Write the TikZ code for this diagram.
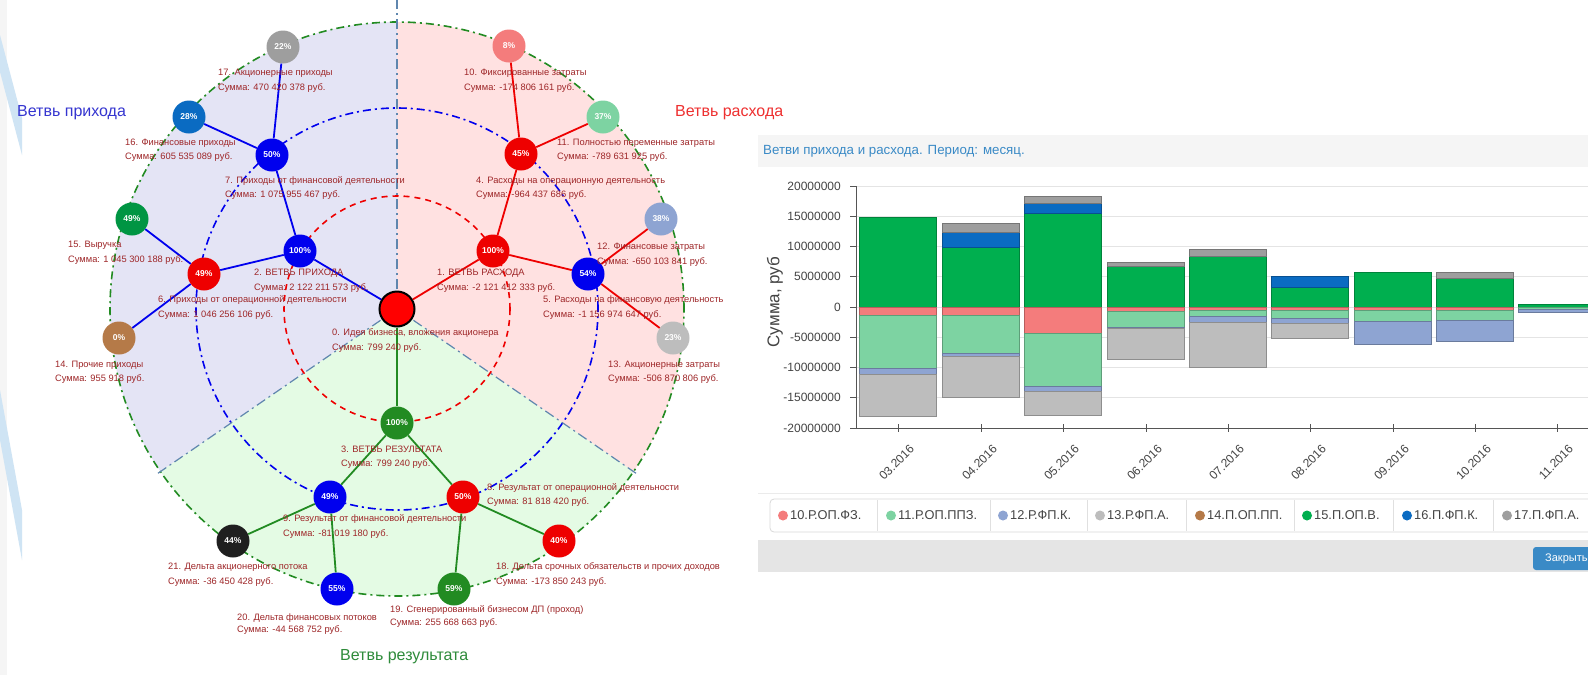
\documentclass[tikz,border=0pt]{standalone}
\usepackage{fontspec}
\setmainfont{Liberation Sans}
\definecolor{lav}{HTML}{E4E4F5}
\definecolor{pinkbg}{HTML}{FFE1E1}
\definecolor{grnbg}{HTML}{E4FBE4}
\definecolor{lblred}{HTML}{9E2628}
\definecolor{incc}{HTML}{0000EE}
\definecolor{expc}{HTML}{EE0000}
\definecolor{resc}{HTML}{228B22}
\definecolor{sectc}{HTML}{5F86AE}
\definecolor{c10}{HTML}{F47C7C}
\definecolor{c11}{HTML}{7DD3A2}
\definecolor{c12}{HTML}{8EA4D2}
\definecolor{c13}{HTML}{BDBDBD}
\definecolor{c14}{HTML}{B57A48}
\definecolor{c15}{HTML}{00AF4F}
\definecolor{c16}{HTML}{0A6BC2}
\definecolor{c17}{HTML}{9E9E9E}
\definecolor{titleblue}{HTML}{3A8AC6}
\definecolor{axisgray}{HTML}{555555}
\definecolor{gridgray}{HTML}{E4E4E4}
\definecolor{txtgray}{HTML}{444444}
\definecolor{edgeblue}{HTML}{CFE4F4}
\definecolor{brinc}{HTML}{3535D0}
\definecolor{brexp}{HTML}{EE3030}
\definecolor{brres}{HTML}{2E8B3A}
\newcommand{\bseg}[4]{\fill[#4, draw=#4!75!black, line width=0.6pt] ({#1-38.5},{-307+6.05*#2}) rectangle ({#1+38.5},{-307+6.05*#3});}
\begin{document}
\begin{tikzpicture}[x=1pt,y=1pt,
  pct/.style={circle, minimum size=33pt, inner sep=0pt, text=white, font=\bfseries\fontsize{8.5}{8.5}\selectfont},
  lbl/.style={anchor=base west, align=left, text=lblred, font=\fontsize{9.3}{14.5}\selectfont, inner sep=0pt},
  incedge/.style={draw=incc, line width=1.8pt},
  expedge/.style={draw=expc, line width=1.8pt},
  resedge/.style={draw=resc, line width=1.8pt},
  redring/.style={draw=expc, line width=1.6pt, dash pattern=on 6pt off 5pt},
  bluering/.style={draw=incc, line width=1.6pt, dash pattern=on 8pt off 4pt on 2pt off 4pt},
  greenring/.style={draw=resc, line width=1.6pt, dash pattern=on 8pt off 4pt on 2pt off 4pt},
  sectline/.style={draw=sectc, line width=1.2pt, dash pattern=on 10pt off 4pt on 2pt off 4pt},
  branch/.style={anchor=west, inner sep=0pt, font=\fontsize{16}{16}\selectfont},
  ytl/.style={anchor=east, inner sep=0pt, text=txtgray, font=\fontsize{12}{12}\selectfont},
  xtl/.style={anchor=east, rotate=45, inner sep=0pt, text=txtgray, font=\fontsize{12}{12}\selectfont},
  legtxt/.style={anchor=west, inner sep=0pt, text=txtgray, font=\fontsize{12.8}{12.8}\selectfont},
  legdot/.style={circle, minimum size=10pt, inner sep=0pt}
]
\clip (0,0) rectangle (1588,-675);
\fill[white] (0,0) rectangle (1588,-675);
% left edge decoration
\fill[gray!8] (0,0) rectangle (7,-675);
\fill[edgeblue] (0,-35) -- (0,-72) -- (22,-155) -- (22,-118) -- cycle;
\fill[edgeblue] (0,-390) -- (0,-440) -- (22,-560) -- (22,-510) -- cycle;

% ===== radial diagram =====
\coordinate (C) at (397,-309);
\fill[lav] (C) -- ++(90:287) arc[start angle=90, end angle=214.5, radius=287] -- cycle;
\fill[pinkbg] (C) -- ++(-34.5:287) arc[start angle=-34.5, end angle=90, radius=287] -- cycle;
\fill[grnbg] (C) -- ++(214.5:287) arc[start angle=214.5, end angle=325.5, radius=287] -- cycle;
\draw[redring] (C) circle[radius=113];
\draw[bluering] (C) circle[radius=201];
\draw[greenring] (C) circle[radius=287];
\coordinate (top) at (397,0);
\path (C) ++(214.5:292) coordinate (ll) (C) ++(-34.5:292) coordinate (lr);
\draw[sectline] (C) -- (top);
\draw[sectline] (C) -- (ll);
\draw[sectline] (C) -- (lr);

% nodes
\node[circle, minimum size=35pt, inner sep=0pt, fill=red, draw=black, line width=2pt] (n0) at (397,-309) {};
\node[pct, fill=expc] (n1) at (493,-251) {100\%};
\node[pct, fill=incc] (n2) at (300,-251) {100\%};
\node[pct, fill=resc] (n3) at (397,-423) {100\%};
\node[pct, fill=expc] (n4) at (521,-154) {45\%};
\node[pct, fill=incc] (n5) at (588,-274) {54\%};
\node[pct, fill=expc] (n6) at (204,-274) {49\%};
\node[pct, fill=incc] (n7) at (272,-155) {50\%};
\node[pct, fill=expc] (n8) at (463,-497) {50\%};
\node[pct, fill=incc] (n9) at (330,-497) {49\%};
\node[pct, fill=c10] (n10) at (509,-46) {8\%};
\node[pct, fill=c11] (n11) at (603,-117) {37\%};
\node[pct, fill=c12] (n12) at (661,-219) {38\%};
\node[pct, fill=c13] (n13) at (673,-338) {23\%};
\node[pct, fill=c14] (n14) at (119,-338) {0\%};
\node[pct, fill=c15!85!black] (n15) at (132,-219) {49\%};
\node[pct, fill=c16] (n16) at (189,-117) {28\%};
\node[pct, fill=c17] (n17) at (283,-47) {22\%};
\node[pct, fill=expc] (n18) at (559,-541) {40\%};
\node[pct, fill=resc] (n19) at (454,-589) {59\%};
\node[pct, fill=incc] (n20) at (337,-589) {55\%};
\node[pct, fill=black!88] (n21) at (233,-541) {44\%};

% edges
\draw[incedge] (n0) -- (n2);
\draw[expedge] (n0) -- (n1);
\draw[resedge] (n0) -- (n3);
\draw[incedge] (n2) -- (n7);
\draw[incedge] (n2) -- (n6);
\draw[incedge] (n7) -- (n17);
\draw[incedge] (n7) -- (n16);
\draw[incedge] (n6) -- (n15);
\draw[incedge] (n6) -- (n14);
\draw[expedge] (n1) -- (n4);
\draw[expedge] (n1) -- (n5);
\draw[expedge] (n4) -- (n10);
\draw[expedge] (n4) -- (n11);
\draw[expedge] (n5) -- (n12);
\draw[expedge] (n5) -- (n13);
\draw[resedge] (n3) -- (n9);
\draw[resedge] (n3) -- (n8);
\draw[resedge] (n9) -- (n21);
\draw[resedge] (n9) -- (n20);
\draw[resedge] (n8) -- (n18);
\draw[resedge] (n8) -- (n19);

% labels (base = baseline of second line)
\node[lbl] (l17) at (218,-90) {17. Акционерные приходы\\Сумма: 470 420 378 руб.};
\node[lbl] (l16) at (125,-159.5) {16. Финансовые приходы\\Сумма: 605 535 089 руб.};
\node[lbl] (l7) at (225,-197.5) {7. Приходы от финансовой деятельности\\Сумма: 1 075 955 467 руб.};
\node[lbl] (l15) at (68,-262) {15. Выручка\\Сумма: 1 045 300 188 руб.};
\node[lbl] (l2) at (254,-290) {2. ВЕТВЬ ПРИХОДА\\Сумма: 2 122 211 573 руб.};
\node[lbl] (l6) at (158,-317) {6. Приходы от операционной деятельности\\Сумма: 1 046 256 106 руб.};
\node[lbl] (l14) at (55,-381.5) {14. Прочие приходы\\Сумма: 955 918 руб.};
\node[lbl] (l10) at (464,-90) {10. Фиксированные затраты\\Сумма: -174 806 161 руб.};
\node[lbl] (l11) at (557,-159.5) {11. Полностью переменные затраты\\Сумма: -789 631 925 руб.};
\node[lbl] (l4) at (476,-197.5) {4. Расходы на операционную деятельность\\Сумма: -964 437 686 руб.};
\node[lbl] (l1) at (437,-290) {1. ВЕТВЬ РАСХОДА\\Сумма: -2 121 412 333 руб.};
\node[lbl] (l12) at (597,-264) {12. Финансовые затраты\\Сумма: -650 103 841 руб.};
\node[lbl] (l5) at (543,-317) {5. Расходы на финансовую деятельность\\Сумма: -1 156 974 647 руб.};
\node[lbl] (l0) at (332,-350) {0. Идея бизнеса, вложения акционера\\Сумма: 799 240 руб.};
\node[lbl] (l13) at (608,-381.5) {13. Акционерные затраты\\Сумма: -506 870 806 руб.};
\node[lbl] (l3) at (341,-466.5) {3. ВЕТВЬ РЕЗУЛЬТАТА\\Сумма: 799 240 руб.};
\node[lbl] (l8) at (487,-504.5) {8. Результат от операционной деятельности\\Сумма: 81 818 420 руб.};
\node[lbl] (l9) at (283,-536) {9. Результат от финансовой деятельности\\Сумма: -81 019 180 руб.};
\node[lbl] (l21) at (168,-584) {21. Дельта акционерного потока\\Сумма: -36 450 428 руб.};
\node[lbl] (l18) at (496,-584) {18. Дельта срочных обязательств и прочих доходов\\Сумма: -173 850 243 руб.};
\node[lbl, font=\fontsize{9.3}{12}\selectfont] (l20) at (237,-632) {20. Дельта финансовых потоков\\Сумма: -44 568 752 руб.};
\node[lbl, font=\fontsize{9.3}{13}\selectfont] (l19) at (390,-625.5) {19. Сгенерированный бизнесом ДП (проход)\\Сумма: 255 668 663 руб.};

\node[branch, text=brinc] (bi) at (17,-113) {Ветвь прихода};
\node[branch, text=brexp] (be) at (675,-113) {Ветвь расхода};
\node[branch, text=brres] (br) at (340,-657) {Ветвь результата};

% ===== chart =====
\fill[black!4] (758,-135) rectangle (1588,-167);
\node[anchor=west, inner sep=0pt, text=titleblue, font=\fontsize{13.3}{13.3}\selectfont] (ttl) at (763,-151) {Ветви прихода и расхода. Период: месяц.};
\foreach \v in {20,15,10,5,0,-5,-10,-15} {
  \draw[gridgray, line width=0.8pt] (856,{-307+6.05*\v}) -- (1588,{-307+6.05*\v});
}
\foreach \v/\t in {20/20000000,15/15000000,10/10000000,5/5000000,0/0,-5/-5000000,-10/-10000000,-15/-15000000,-20/-20000000} {
  \node[ytl] at (841,{-307+6.05*\v}) {\t};
  \draw[axisgray, line width=0.8pt] (850,{-307+6.05*\v}) -- (856,{-307+6.05*\v});
}
\node[rotate=90, inner sep=0pt, text=txtgray, font=\fontsize{17}{17}\selectfont] (yl) at (775,-302) {Сумма, руб};

% bars
\bseg{898}{0}{14.9}{c15}
\bseg{898}{0}{-1.4}{c10}
\bseg{898}{-1.4}{-10.2}{c11}
\bseg{898}{-10.2}{-11.1}{c12}
\bseg{898}{-11.1}{-18.0}{c13}
\bseg{981}{0}{9.8}{c15}
\bseg{981}{9.8}{12.4}{c16}
\bseg{981}{12.4}{13.9}{c17}
\bseg{981}{0}{-1.3}{c10}
\bseg{981}{-1.3}{-7.6}{c11}
\bseg{981}{-7.6}{-8.1}{c12}
\bseg{981}{-8.1}{-14.9}{c13}
\bseg{1063}{0}{15.5}{c15}
\bseg{1063}{15.5}{17.2}{c16}
\bseg{1063}{17.2}{18.3}{c17}
\bseg{1063}{0}{-4.3}{c10}
\bseg{1063}{-4.3}{-13.1}{c11}
\bseg{1063}{-13.1}{-13.9}{c12}
\bseg{1063}{-13.9}{-17.9}{c13}
\bseg{1146}{0}{6.8}{c15}
\bseg{1146}{6.8}{7.4}{c17}
\bseg{1146}{0}{-0.7}{c10}
\bseg{1146}{-0.7}{-3.4}{c11}
\bseg{1146}{-3.4}{-3.6}{c12}
\bseg{1146}{-3.6}{-8.6}{c13}
\bseg{1228}{0}{8.3}{c15}
\bseg{1228}{8.3}{9.5}{c17}
\bseg{1228}{0}{-0.6}{c10}
\bseg{1228}{-0.6}{-1.6}{c11}
\bseg{1228}{-1.6}{-2.6}{c12}
\bseg{1228}{-2.6}{-9.9}{c13}
\bseg{1310}{0}{3.3}{c15}
\bseg{1310}{3.3}{5.1}{c16}
\bseg{1310}{0}{-0.6}{c10}
\bseg{1310}{-0.6}{-1.8}{c11}
\bseg{1310}{-1.8}{-2.7}{c12}
\bseg{1310}{-2.7}{-5.2}{c13}
\bseg{1393}{0}{5.8}{c15}
\bseg{1393}{0}{-0.6}{c10}
\bseg{1393}{-0.6}{-2.4}{c11}
\bseg{1393}{-2.4}{-6.2}{c12}
\bseg{1475}{0}{4.7}{c15}
\bseg{1475}{4.7}{5.8}{c17}
\bseg{1475}{0}{-0.5}{c10}
\bseg{1475}{-0.5}{-2.2}{c11}
\bseg{1475}{-2.2}{-5.7}{c12}
\bseg{1557}{0}{0.4}{c15}
\bseg{1557}{0}{-0.4}{c11}
\bseg{1557}{-0.4}{-0.9}{c12}

\draw[axisgray, line width=1pt] (856,-186) -- (856,-428) -- (1588,-428);
\foreach \x/\t in {898/03.2016,981/04.2016,1063/05.2016,1146/06.2016,1228/07.2016,1310/08.2016,1393/09.2016,1475/10.2016,1557/11.2016} {
  \draw[axisgray, line width=0.8pt] (\x,-424) -- (\x,-432);
  \node[xtl] at (\x+14,-447) {\t};
}

% legend
\draw[black!8, line width=0.8pt] (758,-493) -- (1588,-493);
\draw[black!15, line width=0.8pt, rounded corners=4pt] (770,-499) rectangle (1600,-532);
\foreach \x in {877,990,1087,1186,1294,1393,1493} {
  \draw[black!12, line width=0.8pt] (\x,-500) -- (\x,-531);
}
\foreach \x/\c/\t in {783/c10/10.Р.ОП.ФЗ., 891/c11/11.Р.ОП.ППЗ., 1003/c12/12.Р.ФП.К., 1100/c13/13.Р.ФП.А., 1200/c14/14.П.ОП.ПП., 1307/c15/15.П.ОП.В., 1407/c16/16.П.ФП.К., 1507/c17/17.П.ФП.А.} {
  \node[legdot, fill=\c] at (\x,-515.5) {};
  \node[legtxt] at (\x+7,-515.5) {\t};
}

% footer
\fill[black!10] (758,-540) rectangle (1588,-572);
\fill[titleblue, rounded corners=3pt] (1533,-547) rectangle (1610,-570);
\node[anchor=west, inner sep=0pt, text=white, font=\fontsize{11}{11}\selectfont] (cls) at (1545,-558.5) {Закрыть};
\end{tikzpicture}
\end{document}
